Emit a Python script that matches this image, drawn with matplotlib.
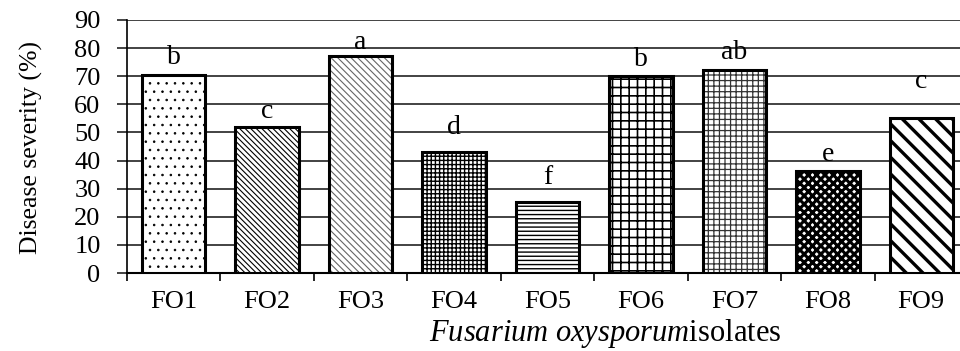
import numpy as np
import matplotlib
matplotlib.use('Agg')
import matplotlib.pyplot as plt

# data
isolates = ['FO1', 'FO2', 'FO3', 'FO4', 'FO5', 'FO6', 'FO7', 'FO8', 'FO9']
severity = [70.5, 52, 77.2, 43, 25.2, 70, 72.3, 36.3, 55.3]
letters = ['b', 'c', 'a', 'd', 'f', 'b', 'ab', 'e', 'c']
letter_y = [76.5, 57.3, 81.9, 51.9, 33.8, 75.8, 78.6, 42.0, 68.3]

hatches = ['..', '\\\\\\\\\\\\', '\\\\\\\\\\', '++++', '----', '++', '+++', 'xxxx', '\\\\']
hatch_lw = [0.6, 0.8, 0.8, 1.0, 1.0, 1.2, 0.9, 2.2, 2.4]
hatch_col = ['black', 'black', '#666666', 'black', 'black', 'black', '#333333', 'black', 'black']

plt.rcParams['font.family'] = 'Liberation Serif'
plt.rcParams['mathtext.fontset'] = 'custom'
plt.rcParams['mathtext.it'] = 'Liberation Serif:italic'
plt.rcParams['mathtext.rm'] = 'Liberation Serif'

fig = plt.figure(figsize=(9.6, 3.51), dpi=100)
ax = fig.add_axes([127 / 960, 78 / 351, 841 / 960, 253 / 351])

x = np.arange(len(isolates))
bars = ax.bar(x, severity, width=0.68, color='white', edgecolor='black',
              linewidth=2.2, zorder=3)
for b, h, lw, hc in zip(bars, hatches, hatch_lw, hatch_col):
    b.set_hatch(h)
    b._hatch_color = matplotlib.colors.to_rgba(hc)
    if hasattr(b, 'set_hatch_linewidth'):
        b.set_hatch_linewidth(lw)

for xi, lab, ly in zip(x, letters, letter_y):
    ax.text(xi, ly, lab, ha='center', va='center', fontsize=20, zorder=4)

ax.set_xlim(-0.5, len(isolates) - 0.5)
ax.set_ylim(0, 90)
ax.set_yticks(np.arange(0, 91, 10))
ax.tick_params(axis='y', length=7, width=1.2, color='#222222', pad=12, labelsize=19)
ax.yaxis.grid(True, color='#222222', linewidth=1.2, zorder=0)

ax.set_xticks(np.arange(-0.5, len(isolates)), labels=[])
ax.set_xticks(x, labels=isolates, minor=True)
ax.tick_params(axis='x', which='major', length=6, width=1.2, direction='out')
ax.tick_params(axis='x', which='minor', length=0, pad=13, labelsize=19)

for s in ['top', 'right']:
    ax.spines[s].set_visible(False)
ax.spines['left'].set_linewidth(1.2)
ax.spines['bottom'].set_linewidth(1.5)

ax.set_ylabel('Disease severity (%)', fontsize=18.5)
ax.yaxis.set_label_coords(-0.1, 0.496)
fig.text(605 / 960, 17 / 351, r'$\it{Fusarium\ oxysporum}$isolates',
         ha='center', va='center', fontsize=22)

plt.savefig('out.png', dpi=100)
